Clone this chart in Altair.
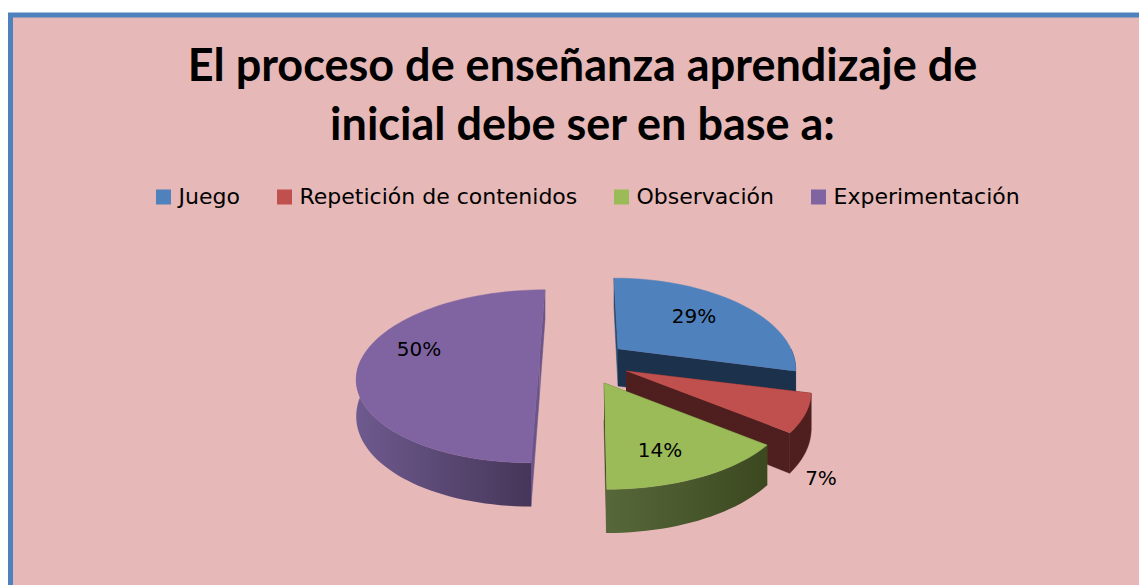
import math
import altair as alt
import pandas as pd

categories = ["Juego", "Repetición de contenidos", "Observación", "Experimentación"]
values = [29, 7, 14, 50]
label_text = ["29%", "7%", "14%", "50%"]
colors = ["#4F81BD", "#C0504D", "#9BBB59", "#8064A2"]

# layout of the exploded 3-D pie (page pixels): apex, half-width, half-depth, vanishing x
SLICE = {"Juego": dict(ax=618, ay=349, a=173, b=85, vx=594),
         "Repetición de contenidos": dict(ax=626, ay=371, a=180, b=85, vx=594),
         "Observación": dict(ax=604, ay=383, a=183, b=85, vx=594),
         "Experimentación": dict(ax=539.4, ay=359, a=178, b=83, vx=573)}
LABEL_POS = {"Juego": (694, 317), "Repetición de contenidos": (821, 479),
             "Observación": (660, 451), "Experimentación": (419, 350)}
K, DEPTH = 0.2, 35
W, H = 1135, 575
X0, Y0 = 10.5, 15


def rim(cat, deg, drop=0.0):
    s = SLICE[cat]
    t = math.radians(deg)
    p = 1 / (1 + K * math.cos(t))
    return (s["vx"] + (s["ax"] - s["vx"] + s["a"] * math.sin(t)) * p,
            s["ay"] - s["b"] * math.cos(t) * p + drop * DEPTH * p)


def apex(cat, drop=0.0):
    s = SLICE[cat]
    return (s["ax"], s["ay"] + drop * DEPTH * 1.06)


def arc_pts(cat, a0, a1, drop=0.0):
    n = max(2, int(abs(a1 - a0) / 2))
    return [rim(cat, a0 + (a1 - a0) * i / n, drop) for i in range(n + 1)]


def frame(pts, cat="x"):
    return pd.DataFrame({"x": [p[0] for p in pts], "y": [p[1] for p in pts],
                         "i": range(len(pts)), "cat": cat})


x_enc = alt.X("x:Q", scale=alt.Scale(domain=[X0, X0 + W], range=[0, W]), axis=None)
y_enc = alt.Y("y:Q", scale=alt.Scale(domain=[Y0, Y0 + H], range=[0, H]), axis=None)


def poly(pts, fill):
    return alt.Chart(frame(pts)).mark_line(fill=fill, stroke=fill if isinstance(fill, str) else "#00000000",
                                           strokeWidth=0.5, interpolate="linear").encode(
        x=x_enc, y=y_enc, order="i:Q")


def grad(c0, c1):
    return alt.Gradient(gradient="linear", x1=0, x2=1, y1=0, y2=0,
                        stops=[alt.GradientStop(color=c0, offset=0), alt.GradientStop(color=c1, offset=1)])


# angular extents, clockwise from the back of the pie
spans = {}
acc = 0.0
for c, v in zip(categories, values):
    spans[c] = (acc, acc + v * 3.6)
    acc += v * 3.6

cut_start = {"Juego": "#2C4A6E", "Repetición de contenidos": "#4F1F1F", "Observación": "#4A5A28", "Experimentación": "#6A5488"}
cut_end = {"Juego": "#1C324C", "Repetición de contenidos": "#4F1F1F", "Observación": "#3F4A22", "Experimentación": "#6A5488"}
wall_fill = {"Juego": "#1C324C",
             "Repetición de contenidos": "#4F1F1F",
             "Observación": grad("#56683A", "#3C4820"),
             "Experimentación": grad("#6E5A8E", "#463659")}

layers = []
for c in ["Experimentación", "Juego", "Repetición de contenidos", "Observación"]:
    a0, a1 = spans[c]
    # cut face at the start of the slice
    layers.append(poly([apex(c), rim(c, a0), rim(c, a0, 1), apex(c, 1)], cut_start[c]))
    # cut face at the end of the slice
    layers.append(poly([apex(c), rim(c, a1), rim(c, a1, 1), apex(c, 1)], cut_end[c]))
    # outer wall, front half only
    lo, hi = max(a0, 90), min(a1, 270)
    if hi > lo:
        top = arc_pts(c, lo, hi)
        bot = arc_pts(c, hi, lo, 1)
        layers.append(poly(top + bot, wall_fill[c]))

# top faces, all four, painted through the colour scale
order = ["Experimentación", "Juego", "Repetición de contenidos", "Observación"]
for c in order:
    a0, a1 = spans[c]
    pts = [apex(c)] + arc_pts(c, a0, a1)
    layers.append(
        alt.Chart(frame(pts, c)).mark_line(strokeWidth=0.5, interpolate="linear").encode(
            x=x_enc, y=y_enc, order="i:Q",
            stroke=alt.Stroke("cat:N", scale=alt.Scale(domain=categories, range=colors), legend=None),
            fill=alt.Fill("cat:N", scale=alt.Scale(domain=categories, range=colors),
                          legend=alt.Legend(title=None, orient="none", legendX=142, legendY=171,
                                            direction="horizontal", columns=4, symbolType="square",
                                            symbolSize=225, symbolStrokeWidth=0, labelFont="DejaVu Sans",
                                            labelFontSize=22, labelColor="#000000", columnPadding=33,
                                            symbolOpacity=1, labelLimit=400, labelOffset=4)),
        ))

labels = pd.DataFrame({"x": [LABEL_POS[c][0] for c in categories],
                       "y": [LABEL_POS[c][1] for c in categories],
                       "t": label_text})
layers.append(alt.Chart(labels).mark_text(font="DejaVu Sans", fontSize=20, color="#000000").encode(
    x=x_enc, y=y_enc, text="t:N"))

chart = alt.layer(*layers).resolve_scale(color="shared").properties(
    width=W, height=H,
    padding={"left": 2.5, "top": 7, "right": -6.5, "bottom": -5},
    autosize=alt.AutoSizeParams(type="none"),
    title=alt.TitleParams(text=["El proceso de enseñanza aprendizaje de", "inicial debe ser en base a:"],
                          font="Lato", fontSize=45, fontWeight="bold", color="#000000",
                          anchor="middle", frame="group", lineHeight=59,
                          dx=4.5, dy=134, offset=0),
).configure_view(fill="#E6B8B7", stroke="#4F81BD", strokeWidth=5)

chart.save("out.html", embed_options={"renderer": "svg", "actions": False})
